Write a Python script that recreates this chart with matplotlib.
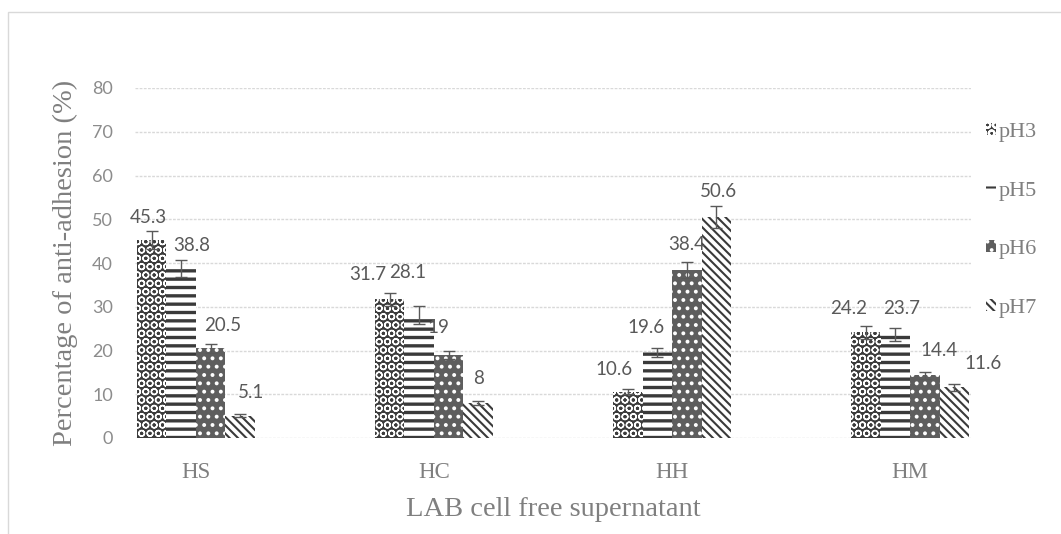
import numpy as np
import matplotlib
matplotlib.use('Agg')
import matplotlib.pyplot as plt
from matplotlib.patches import Rectangle

# 抗粘附百分比数据
strains = ['HS', 'HC', 'HH', 'HM']
ph_levels = ['pH3', 'pH5', 'pH6', 'pH7']
ph3 = [45.3, 31.7, 10.6, 24.2]
ph5 = [38.8, 28.1, 19.6, 23.7]
ph6 = [20.5, 19.0, 38.4, 14.4]
ph7 = [5.1, 8.0, 50.6, 11.6]
ph3_err = [2.0, 1.5, 0.5, 1.5]
ph5_err = [2.0, 2.0, 1.0, 1.5]
ph6_err = [1.0, 1.0, 1.8, 0.8]
ph7_err = [0.3, 0.5, 2.5, 0.8]

# 数据标签相对柱顶的偏移 (像素)
label_dx = [[-3, -22, -14, -17],
            [11, -12, -11, 6],
            [12, -10, 0, 14],
            [11, 0, 2, 29]]
label_dy = [[22, 25, 22, 24],
            [23, 43, 25, 26],
            [23, 27, 25, 25],
            [23, 25, 25, 24]]

values = [ph3, ph5, ph6, ph7]
errors = [ph3_err, ph5_err, ph6_err, ph7_err]

# 每组柱子的填充样式
styles = [
    dict(facecolor='#3c3c3c', edgecolor='white', hatch='OO', hlw=1.0),
    dict(facecolor='white', edgecolor='#3a3a3a', hatch='--', hlw=2.4),
    dict(facecolor='#5e5e5e', edgecolor='white', hatch='..', hlw=1.6),
    dict(facecolor='white', edgecolor='#3a3a3a', hatch='\\\\\\\\', hlw=1.5),
]

serif = ['Liberation Serif', 'DejaVu Serif']
sans = ['Lato', 'DejaVu Sans']
grey = '#7f7f7f'

plt.rcParams['hatch.linewidth'] = 1.5

fig = plt.figure(figsize=(10.61, 5.34), dpi=100)
fig.patches.append(Rectangle((8 / 1061, -0.1), 1.2, 1 - 12 / 534 + 0.1,
                             transform=fig.transFigure, fill=False,
                             edgecolor='#d9d9d9', linewidth=1))
ax = fig.add_axes([135 / 1061, 1 - 438 / 534, 836 / 1061, 350 / 534])

x = np.arange(len(strains))
w = 0.124
handles = []
for i, (vals, errs, st) in enumerate(zip(values, errors, styles)):
    pos = x + (i - 1.5) * w
    bars = ax.bar(pos, vals, width=w, facecolor=st['facecolor'],
                  edgecolor=st['edgecolor'], hatch=st['hatch'],
                  linewidth=0, zorder=2, label=ph_levels[i])
    for b in bars:
        if hasattr(b, 'set_hatch_linewidth'):
            b.set_hatch_linewidth(st['hlw'])
    handles.append(bars)
    ax.errorbar(pos, vals, yerr=errs, fmt='none', ecolor='#595959',
                elinewidth=1, capsize=4, capthick=1, zorder=3)
    for j, (p, v) in enumerate(zip(pos, vals)):
        ax.annotate('{:g}'.format(v), (p, v),
                    xytext=(label_dx[i][j] * 0.72, label_dy[i][j] * 0.72),
                    textcoords='offset points', ha='center', va='center',
                    fontsize=13.5, family=sans, color='#595959')

ax.set_xlim(-0.256, 3.256)
ax.set_ylim(0, 80)
ax.set_yticks(range(0, 81, 10))
ax.yaxis.grid(True, color='#d9d9d9', linewidth=1, linestyle=(0, (2, 1)))
ax.set_axisbelow(True)
for s in ax.spines.values():
    s.set_visible(False)
ax.tick_params(length=0)
ax.tick_params(axis='y', pad=16, labelsize=13, labelcolor='#8c8c8c')
ax.tick_params(axis='x', pad=17, labelsize=16.5, labelcolor=grey)
ax.set_xticks(x)
ax.set_xticklabels(strains, family=serif)
for t in ax.get_yticklabels():
    t.set_family(sans)

ax.set_ylabel('Percentage of anti-adhesion (%)', family=serif, fontsize=20.5,
              color=grey, labelpad=10)
ax.set_xlabel('LAB cell free supernatant', family=serif, fontsize=20.5,
              color=grey, labelpad=10)

leg = fig.legend(handles=handles, labels=ph_levels, loc='upper left',
                 bbox_to_anchor=(986 / 1061, 1 - 123 / 534), frameon=False,
                 prop={'family': serif, 'size': 16}, labelcolor=grey,
                 handlelength=0.45, handleheight=0.45, handletextpad=0.1,
                 labelspacing=1.78, borderpad=0, borderaxespad=0)

fig.savefig('out.png', dpi=100)
